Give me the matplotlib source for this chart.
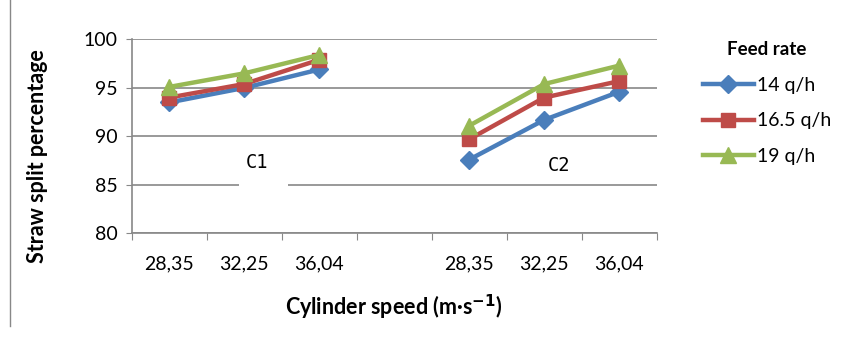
import matplotlib
matplotlib.use("Agg")
from matplotlib import pyplot as plt
from matplotlib.lines import Line2D
from matplotlib.patches import Rectangle

# categories (4th slot is an empty gap between C1 and C2)
categories = ["28,35", "32,25", "36,04", "", "28,35", "32,25", "36,04"]
series_names = ["14 q/h", "16.5 q/h", "19 q/h"]
c1_values = [
    [93.5, 95.0, 96.9],   # 14 q/h
    [94.0, 95.4, 97.9],   # 16.5 q/h
    [95.1, 96.5, 98.4],   # 19 q/h
]
c2_values = [
    [87.6, 91.7, 94.6],
    [89.7, 94.0, 95.7],
    [91.1, 95.4, 97.3],
]
colors = ["#4A7EBB", "#BE4B48", "#98B954"]
markers = ["D", "s", "^"]
msizes = [9, 10, 12]

plt.rcParams['font.family'] = ['Lato', 'DejaVu Sans']
fig = plt.figure(figsize=(8.46, 3.4), dpi=100)
ax = fig.add_axes([0.1557, 0.314, 0.6206, 0.570])

for i in range(3):
    ax.plot([0, 1, 2], c1_values[i], color=colors[i], marker=markers[i],
            markersize=msizes[i], linewidth=3.2, label=series_names[i], zorder=3 + i)
    ax.plot([4, 5, 6], c2_values[i], color=colors[i], marker=markers[i],
            markersize=msizes[i], linewidth=3.2, zorder=3 + i)

ax.set_xlim(-0.5, len(categories) - 0.5)
ax.set_ylim(80, 100)
ax.set_yticks([80, 85, 90, 95, 100])
ax.set_xticks([i - 0.5 for i in range(len(categories) + 1)])
ax.set_xticklabels([])
ax.set_xticks(range(len(categories)), minor=True)
ax.set_xticklabels(categories, minor=True)
ax.tick_params(axis='x', which='major', length=5, color='#888888')
ax.tick_params(axis='x', which='minor', length=0, pad=16, labelsize=14)
ax.tick_params(axis='y', length=4, color='#888888', labelsize=14, pad=6)
ax.grid(axis='y', color='#888888', linewidth=1.2)
ax.set_axisbelow(True)
for s in ['top', 'right']:
    ax.spines[s].set_visible(False)
for s in ['left', 'bottom']:
    ax.spines[s].set_color('#888888')
    ax.spines[s].set_linewidth(1.2)

# white label box for C1 that cuts the 85 gridline
ax.add_patch(Rectangle((0.93, 84.6), 0.66, 5.0, facecolor='white', edgecolor='none', zorder=1))
ax.text(1.17, 87.25, "C1", fontsize=13.5, family='DejaVu Sans Mono', ha='center', va='center', zorder=2)
ax.text(5.2, 86.95, "C2", fontsize=13.5, family='DejaVu Sans Mono', ha='center', va='center', zorder=2)

ax.set_ylabel("Straw split percentage", fontsize=15.5, fontweight='bold')
ax.yaxis.set_label_coords(-0.16, 0.40)
ax.set_xlabel("Cylinder speed (m·s$^{\\mathbf{-1}}$)", fontsize=15.5, fontweight='bold', labelpad=15)

leg = ax.legend(loc='upper left', bbox_to_anchor=(1.055, 1.08), frameon=False,
                title="Feed rate", fontsize=14, handlelength=2.6, labelspacing=0.95,
                handletextpad=0.15)
leg.get_title().set_fontweight('bold')
leg.get_title().set_fontsize(13.5)

fig.add_artist(Line2D([0.012, 0.012], [0.04, 1.0], color='#888888', linewidth=1))

fig.savefig("out.png", dpi=100)
plt.close(fig)
